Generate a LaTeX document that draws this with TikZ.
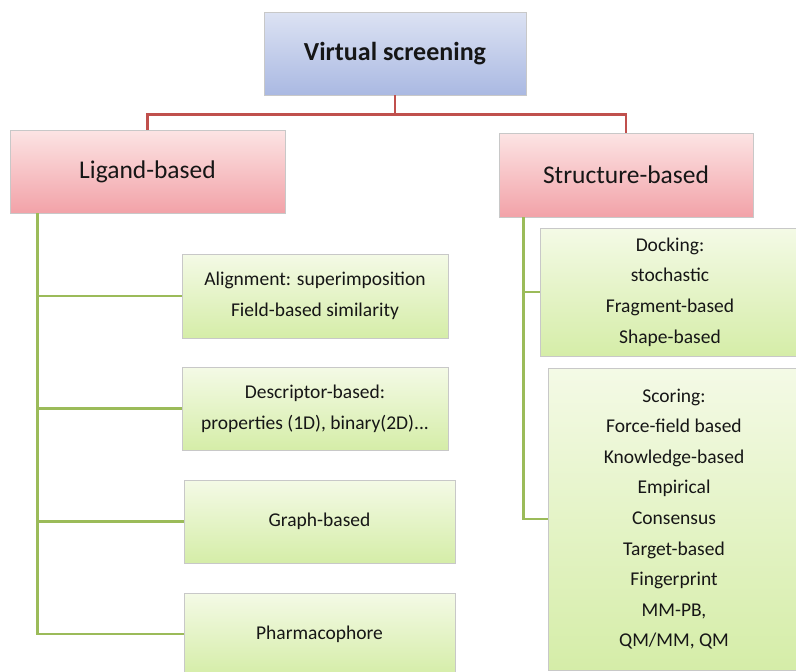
\documentclass[tikz,border=0pt]{standalone}
\usepackage{fontspec}
\setmainfont{Carlito}
\usetikzlibrary{calc}

\definecolor{txt}{HTML}{161616}
\definecolor{edge}{HTML}{C8C8C8}
\definecolor{redline}{HTML}{C0504D}
\definecolor{greenline}{HTML}{9BBB59}
\definecolor{blueTop}{HTML}{DCE2F3}
\definecolor{blueBot}{HTML}{AAB9E2}
\definecolor{redTop}{HTML}{FCE4E4}
\definecolor{redBot}{HTML}{F2A2A8}
\definecolor{greenTop}{HTML}{F4FAE6}
\definecolor{greenBot}{HTML}{D5EDA8}

\tikzset{
  box/.style={draw=edge, line width=0.8pt, rectangle, inner sep=0pt,
    text=txt, align=center},
  rootbox/.style={box, top color=blueTop, bottom color=blueBot,
    font=\fontsize{26}{30}\selectfont\bfseries},
  midbox/.style={box, top color=redTop, bottom color=redBot,
    font=\fontsize{25.5}{30}\selectfont},
  leafbox/.style={box, top color=greenTop, bottom color=greenBot,
    font=\fontsize{19.5}{30.6}\selectfont},
  redlink/.style={draw=redline, line width=2.8pt},
  greenlink/.style={draw=greenline, line width=2.5pt},
}

\begin{document}
\begin{tikzpicture}[x=1pt, y=-1pt]
  \clip (0,0) rectangle (796,672);
  \fill[white] (0,0) rectangle (796,672);

  % top level
  \node[rootbox, minimum width=262, minimum height=83] (vs) at (395,53.5) {Virtual screening};

  % two families
  \node[midbox, minimum width=275, minimum height=83] (lig) at (147.5,171.5) {Ligand-based};
  \node[midbox, minimum width=254, minimum height=84] (str) at (626,175) {Structure-based};

  % ligand-based methods
  \node[leafbox, minimum width=266, minimum height=84] (align) at (315,296)
    {Alignment: superimposition\\Field-based similarity};
  \node[leafbox, minimum width=266, minimum height=83] (desc) at (315,408.5)
    {Descriptor-based:\\properties (1D), binary(2D)...};
  \node[leafbox, minimum width=271, minimum height=83] (graph) at (319.5,521.5)
    {Graph-based};
  \node[leafbox, minimum width=271, minimum height=82] (pharm) at (319.5,634)
    {Pharmacophore};

  % structure-based methods
  \node[leafbox, minimum width=260, minimum height=128] (dock) at (670,292)
    {Docking:\\stochastic\\Fragment-based\\Shape-based};
  \node[leafbox, minimum width=252, minimum height=302] (score) at (674,519)
    {Scoring:\\Force-field based\\Knowledge-based\\Empirical\\Consensus\\Target-based\\Fingerprint\\MM-PB,\\QM/MM, QM};

  % red links from the root
  \coordinate (fork) at ($(vs.south)+(0,19)$);
  \draw[redlink] (vs.south) -- (fork) -| (lig.north);
  \draw[redlink] (fork) -| (str.north);

  % green trunk on the ligand side
  \coordinate (ltrunk) at ($(lig.south west)+(28,0)$);
  \draw[greenlink] (ltrunk) |- (pharm.west);
  \draw[greenlink] (align.west -| ltrunk) -- (align.west);
  \draw[greenlink] (desc.west -| ltrunk) -- (desc.west);
  \draw[greenlink] (graph.west -| ltrunk) -- (graph.west);

  % green trunk on the structure side
  \coordinate (rtrunk) at ($(str.south west)+(25,0)$);
  \draw[greenlink] (rtrunk) |- (score.west);
  \draw[greenlink] (dock.west -| rtrunk) -- (dock.west);
\end{tikzpicture}
\end{document}
